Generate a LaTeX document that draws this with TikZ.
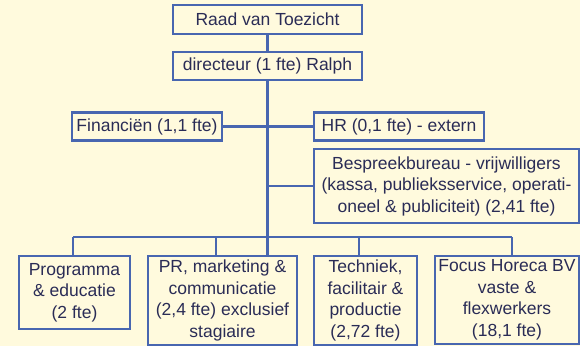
\documentclass[tikz,border=0pt]{standalone}
\usepackage{fontspec}
\setmainfont{Liberation Sans}
\definecolor{bg}{RGB}{255,250,221}
\definecolor{edge}{RGB}{72,102,176}
\definecolor{ink}{RGB}{42,44,86}
\pgfdeclarelayer{paper}
\pgfdeclarelayer{lines}
\pgfsetlayers{paper,lines,main}
\tikzset{
  orgbox/.style={draw=edge, line width=2.4pt, fill=bg, inner sep=0pt, text=ink,
    align=center, font=\fontsize{17.5}{21.5}\selectfont},
  link/.style={draw=edge, line width=2.4pt}
}
\begin{document}
\begin{tikzpicture}[x=1pt,y=-1pt]
\begin{pgfonlayer}{paper}
\fill[bg] (0,0) rectangle (580,346);
\end{pgfonlayer}
\useasboundingbox (0,0) rectangle (580,346);
\node[orgbox, minimum width=189pt, minimum height=29pt] (raad) at (267.5,19.5) {Raad van Toezicht};
\node[orgbox, minimum width=189pt, minimum height=28pt] (dir) at (267.5,66) {directeur (1 fte) Ralph};
\node[orgbox, minimum width=150pt, minimum height=28pt] (fin) at (147,126.5) {Financiën (1,1 fte)};
\node[orgbox, minimum width=170pt, minimum height=28pt] (hr) at (399,126.5) {HR (0,1 fte) - extern};
\node[orgbox, minimum width=265pt, minimum height=74pt] (besp) at (446.5,186) {Bespreekbureau - vrijwilligers\\(kassa, publieksservice, operati-\\oneel \& publiciteit) (2,41 fte)};
\node[orgbox, minimum width=111pt, minimum height=73pt] (prog) at (74.5,292.5) {Programma\\\& educatie\\(2 fte)};
\node[orgbox, minimum width=149pt, minimum height=89pt] (pr) at (222.5,300.5) {PR, marketing \&\\communicatie\\(2,4 fte) exclusief\\stagiaire};
\node[orgbox, minimum width=103pt, minimum height=89pt] (tech) at (365.5,300.5) {Techniek,\\facilitair \&\\productie\\(2,72 fte)};
\node[orgbox, minimum width=144pt, minimum height=88pt] (focus) at (507,300) {Focus Horeca BV\\vaste \&\\flexwerkers\\(18,1 fte)};
\coordinate (b1) at (73,237);
\coordinate (b2) at (216,237);
\coordinate (b4) at (359,237);
\coordinate (b5) at (512,237);
\begin{pgfonlayer}{lines}
\draw[link] (raad.south) -- (dir.north);
\draw[link] (dir.south) -- (dir.south |- pr.north);
\draw[link] (fin.east) -- (hr.west);
\draw[link] (besp.west) -- (besp.west -| dir.south);
\draw[link] (b1) -- (b5);
\draw[link] (b1) -- (b1 |- prog.north);
\draw[link] (b2) -- (b2 |- pr.north);
\draw[link] (b4) -- (b4 |- tech.north);
\draw[link] (b5) -- (b5 |- focus.north);
\end{pgfonlayer}
\end{tikzpicture}
\end{document}
